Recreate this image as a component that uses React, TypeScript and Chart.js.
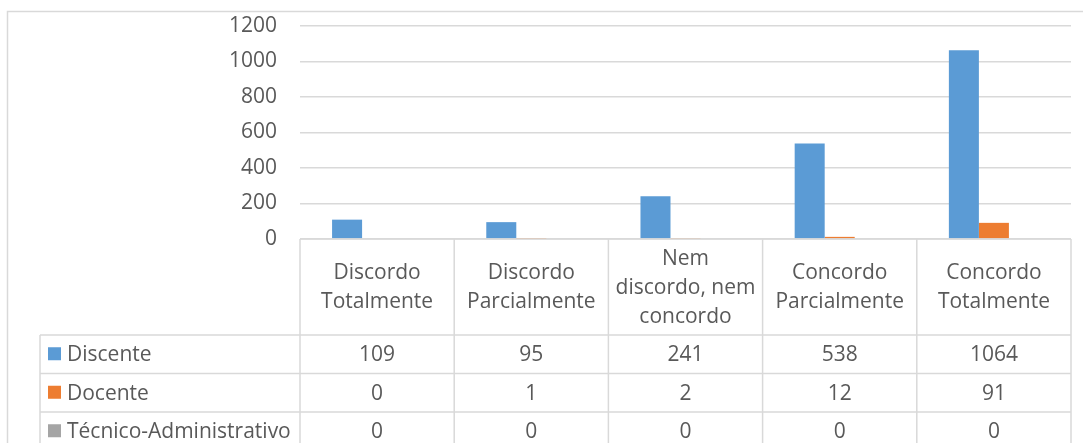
import React, { useEffect, useRef } from "react";
import { Chart, registerables } from "chart.js";

Chart.register(...registerables);

const categories: string[][] = [
  ["Discordo", "Totalmente"],
  ["Discordo", "Parcialmente"],
  ["Nem", "discordo, nem", "concordo"],
  ["Concordo", "Parcialmente"],
  ["Concordo", "Totalmente"],
];
const seriesNames = ["Discente", "Docente", "Técnico-Administrativo"];
const discente = [109, 95, 241, 538, 1064];
const docente = [0, 1, 2, 12, 91];
const tecnico = [0, 0, 0, 0, 0];
const seriesColors = ["#5b9bd5", "#ed7d31", "#a5a5a5"];
const yTicks = [0, 200, 400, 600, 800, 1000, 1200];

const FONT = "'Open Sans', sans-serif";
const FONT_SIZE = 21;
const TEXT = "#595959";
const LINE = "#d9d9d9";

const tablePlugin = {
  id: "dataTable",
  afterDraw(chart: any) {
    const ctx = chart.ctx;
    const x = chart.scales.x;
    const area = chart.chartArea;
    const n = categories.length;
    const colW = (area.right - area.left) / n;
    const top = area.bottom;
    const headerBottom = top + 96;
    const rowH = 38.5;
    const legendLeft = 40;
    const H = chart.height;
    ctx.save();
    ctx.strokeStyle = LINE;
    ctx.lineWidth = 1.5;
    ctx.beginPath();
    ctx.moveTo(7.5, H + 5);
    ctx.lineTo(7.5, 11.5);
    ctx.lineTo(chart.width + 5, 11.5);
    ctx.stroke();
    ctx.beginPath();
    ctx.moveTo(area.left, top);
    ctx.lineTo(area.right, top);
    ctx.moveTo(legendLeft, headerBottom);
    ctx.lineTo(area.right, headerBottom);
    for (let r = 1; r <= seriesNames.length; r++) {
      const y = headerBottom + r * rowH;
      ctx.moveTo(legendLeft, y);
      ctx.lineTo(area.right, y);
    }
    ctx.moveTo(legendLeft, headerBottom);
    ctx.lineTo(legendLeft, H + 5);
    for (let i = 0; i <= n; i++) {
      const xx = area.left + i * colW;
      ctx.moveTo(xx, top);
      ctx.lineTo(xx, H + 5);
    }
    ctx.stroke();
    ctx.fillStyle = TEXT;
    ctx.font = `${FONT_SIZE}px ${FONT}`;
    ctx.textAlign = "center";
    ctx.textBaseline = "middle";
    const headerMid = (top + headerBottom) / 2 + 1;
    const lh = 29;
    categories.forEach((lines, i) => {
      const cx = x.getPixelForValue(i);
      const y0 = headerMid - ((lines.length - 1) * lh) / 2;
      lines.forEach((ln, k) => ctx.fillText(ln, cx, y0 + k * lh));
    });
    const data = [discente, docente, tecnico];
    seriesNames.forEach((name, r) => {
      const ym = headerBottom + r * rowH + rowH / 2;
      ctx.fillStyle = seriesColors[r];
      ctx.fillRect(48, ym - 7, 13, 13);
      ctx.fillStyle = TEXT;
      ctx.textAlign = "left";
      ctx.fillText(name, 67, ym + 1);
      ctx.textAlign = "center";
      data[r].forEach((v, i) => {
        ctx.fillText(String(v), x.getPixelForValue(i), ym + 1);
      });
    });
    ctx.restore();
  },
};

export default function App() {
  const ref = useRef<HTMLCanvasElement>(null);
  useEffect(() => {
    if (!ref.current) return;
    const chart = new Chart(ref.current, {
      type: "bar",
      data: {
        labels: categories,
        datasets: [
          { label: seriesNames[0], data: discente, backgroundColor: seriesColors[0] },
          { label: seriesNames[1], data: docente, backgroundColor: seriesColors[1] },
          { label: seriesNames[2], data: tecnico, backgroundColor: seriesColors[2] },
        ],
      },
      options: {
        responsive: false,
        animation: false,
        devicePixelRatio: 1,
        layout: { padding: { top: 26, right: 12, left: 0, bottom: 0 } },
        datasets: { bar: { categoryPercentage: 0.584, barPercentage: 1 } },
        plugins: { legend: { display: false }, tooltip: { enabled: false } },
        scales: {
          x: {
            ticks: { display: false },
            grid: { display: false },
            border: { display: false },
            afterFit: (s: any) => {
              s.height = 204;
            },
          },
          y: {
            min: 0,
            max: 1200,
            afterBuildTicks: (s: any) => {
              s.ticks = yTicks.map((v) => ({ value: v }));
            },
            ticks: {
              padding: 23,
              color: TEXT,
              font: { family: FONT, size: FONT_SIZE },
              callback: (v: any) => String(v),
            },
            grid: { color: LINE, lineWidth: 1.5, drawTicks: false },
            border: { display: false },
            afterFit: (s: any) => {
              s.width = 300;
              s.paddingTop = 0;
              s.paddingBottom = 0;
            },
          },
        },
      },
      plugins: [tablePlugin],
    });
    return () => chart.destroy();
  }, []);
  return (
    <div style={{ position: "absolute", left: 0, top: 0, width: 1083, height: 443, background: "#fff" }}>
      <canvas ref={ref} width={1083} height={443} />
    </div>
  );
}
